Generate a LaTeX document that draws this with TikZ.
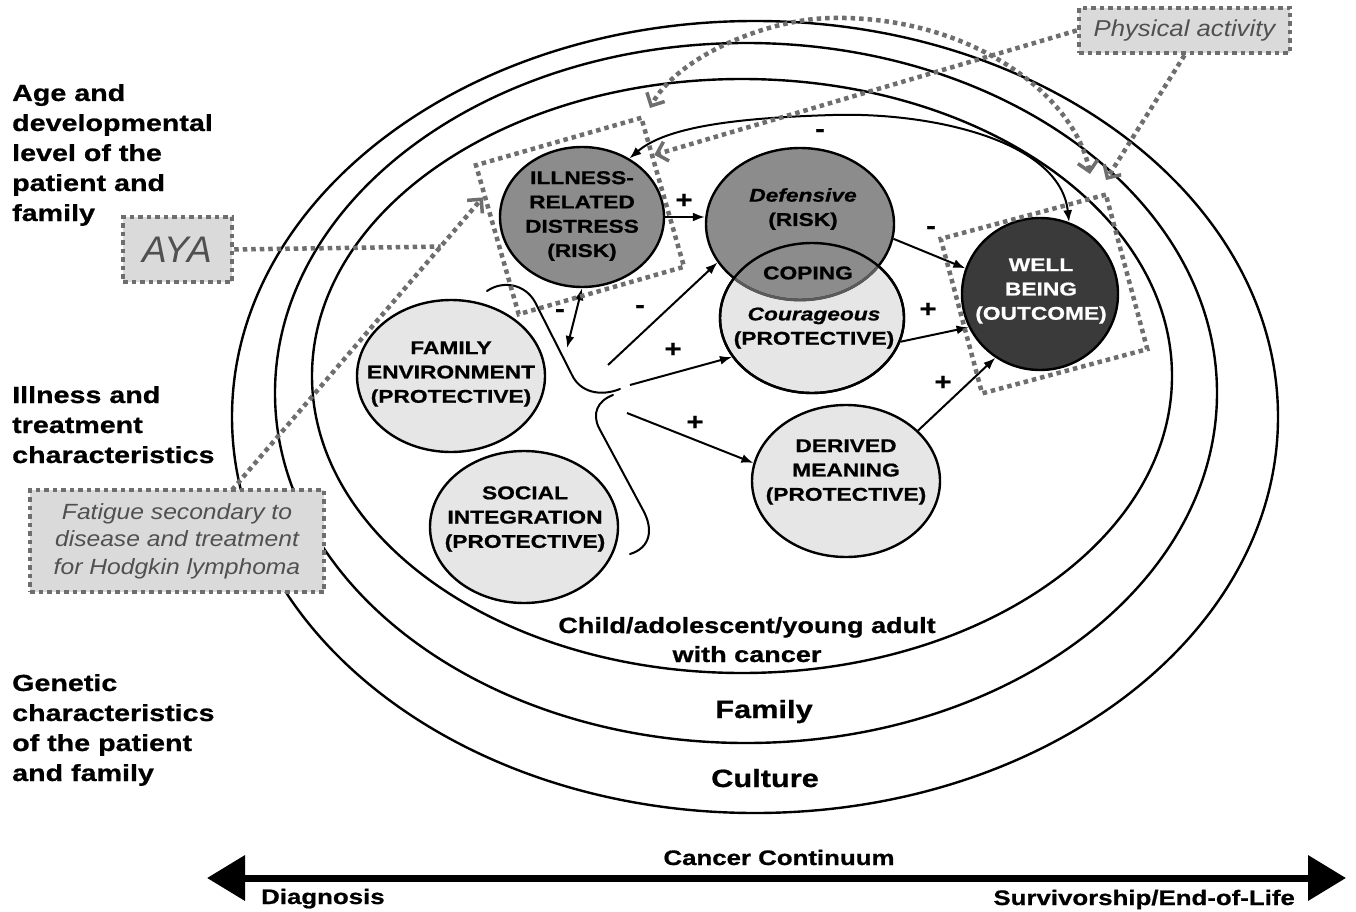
\documentclass[tikz,border=0pt]{standalone}
\usepackage{fontspec}
\setmainfont{Liberation Sans}
\newfontfamily\WideFont[FakeStretch=1.23,FakeBold=0.8]{Liberation Sans}
\newfontfamily\SlFont[FakeStretch=1.12]{Liberation Sans}
\usetikzlibrary{arrows.meta,shapes.geometric,calc}
\definecolor{riskgray}{HTML}{8C8C8C}
\definecolor{riskdark}{HTML}{5A5A5A}
\definecolor{protgray}{HTML}{E6E6E6}
\definecolor{outgray}{HTML}{3A3A3A}
\definecolor{dotgray}{HTML}{6E6E6E}
\definecolor{boxgray}{HTML}{DADADA}
\definecolor{txtgray}{HTML}{505050}
\begin{document}
\begin{tikzpicture}[x=1pt,y=-1pt,
  ring/.style={draw=black, line width=2.4pt},
  circ/.style={ellipse, draw=black, line width=2.4pt, inner sep=0pt},
  risk/.style={circ, fill=riskgray},
  prot/.style={circ, fill=protgray},
  outc/.style={circ, fill=outgray},
  ctext/.style={font=\WideFont\bfseries\fontsize{18.5}{24.3}\selectfont, align=center, inner sep=0pt},
  lbl/.style={font=\WideFont\bfseries\fontsize{23.3}{30}\selectfont, align=left, inner sep=0pt},
  ringlbl/.style={font=\WideFont\bfseries\fontsize{22}{29}\selectfont, align=center, inner sep=0pt},
  pm/.style={font=\WideFont\bfseries\fontsize{24}{24}\selectfont, inner sep=0pt},
  arr/.style={draw=black, line width=2pt, -{Latex[length=12pt,width=9pt]}},
  darr/.style={draw=black, line width=2pt, {Latex[length=12pt,width=9pt]}-{Latex[length=12pt,width=9pt]}},
  brace/.style={draw=black, line width=2pt, line cap=round},
  dotbox/.style={draw=dotgray, line width=4.5pt, dash pattern=on 4.5pt off 4pt, inner sep=0pt},
  dotline/.style={draw=dotgray, line width=4.5pt, dash pattern=on 4.5pt off 4pt},
  dotarr/.style={dotline, -{Straight Barb[length=10pt,width=20pt,line width=3.5pt]}},
  dotdarr/.style={dotline, {Straight Barb[length=10pt,width=20pt,line width=3.5pt]}-{Straight Barb[length=10pt,width=20pt,line width=3.5pt]}},
  axis/.style={draw=black, line width=7pt, {Triangle[length=38pt,width=44pt]}-{Triangle[length=38pt,width=44pt]}}
]
\fill[white] (0,0) rectangle (1356,912);
\path[use as bounding box] (0,0) rectangle (1356,912);

% rings
\draw[ring] (755,417) ellipse [x radius=523pt, y radius=396pt];
\draw[ring] (746,393) ellipse [x radius=471pt, y radius=350pt];
\draw[ring] (742,376) ellipse [x radius=430pt, y radius=297pt];

% left labels (anchor base = baseline of last line)
\node[lbl, anchor=base west] (agel) at (12,221) {Age and\\developmental\\level of the\\patient and\\family};
\node[lbl, anchor=base west] (illl) at (12,463) {Illness and\\treatment\\characteristics};
\node[lbl, anchor=base west] (genl) at (12,781) {Genetic\\characteristics\\of the patient\\and family};

% ring labels
\node[ringlbl, anchor=base] (childl) at (747,662) {Child/adolescent/young adult\\with cancer};
\node[font=\WideFont\bfseries\fontsize{25}{25}\selectfont, anchor=base, inner sep=0pt] (faml) at (764,718) {Family};
\node[font=\WideFont\bfseries\fontsize{25}{25}\selectfont, anchor=base, inner sep=0pt] (cull) at (765,787) {Culture};

% circles
\node[risk, minimum width=164pt, minimum height=140pt] (ill) at (582,217) {};
\node[prot, minimum width=184pt, minimum height=150pt] (cou) at (812,318) {};
\node[risk, minimum width=188pt, minimum height=152pt] (def) at (800,224) {};
\begin{scope}
  \clip (812,318) ellipse [x radius=92pt, y radius=75pt];
  \draw[draw=riskdark, line width=2.8pt] (800,224) ellipse [x radius=94pt, y radius=76pt];
\end{scope}
\node[circ, minimum width=184pt, minimum height=150pt] (couo) at (812,318) {};
\node[outc, minimum width=156pt, minimum height=152pt] (wb) at (1040,294) {};
\node[prot, minimum width=188pt, minimum height=152pt] (fe) at (451,376) {};
\node[prot, minimum width=188pt, minimum height=152pt] (si) at (524,527) {};
\node[prot, minimum width=188pt, minimum height=152pt] (dm) at (846,481) {};

% circle texts
\node[ctext] (illt) at (582,216) {ILLNESS-\\RELATED\\DISTRESS\\(RISK)};
\node[ctext] (deft) at (803,209) {\itshape Defensive\\(RISK)};
\node[ctext] (copt) at (808,273) {COPING};
\node[ctext] (cout) at (814,328) {\itshape Courageous\\(PROTECTIVE)};
\node[ctext, text=white] (wbt) at (1041,291) {WELL\\BEING\\(OUTCOME)};
\node[ctext] (fet) at (451,374) {FAMILY\\ENVIRONMENT\\(PROTECTIVE)};
\node[ctext] (sit) at (525,519) {SOCIAL\\INTEGRATION\\(PROTECTIVE)};
\node[ctext] (dmt) at (846,472) {DERIVED\\MEANING\\(PROTECTIVE)};

% brace
\draw[brace] (487,291) .. controls (503,280) and (525,284) .. (535,302) -- (572,375) .. controls (580,392) and (600,397) .. (620,389);
\draw[brace] (613,395) .. controls (597,401) and (592,414) .. (599,428) -- (643,510) .. controls (654,530) and (650,548) .. (630,554);

% branch coordinates
\coordinate (bA) at (567,348);
\coordinate (bB) at (608,365);
\coordinate (bC) at (630,385);
\coordinate (bD) at (627,413);

% solid arrows
\draw[arr] (ill.east) -- (ill.east -| def.west);
\draw[darr] (wb.68) .. controls (1060,140) and (930,112) .. (833,115) .. controls (730,118) and (665,128) .. (ill.51);
\draw[arr] (def.-9) -- (wb.161);
\draw[arr] (cou.-15) -- (wb.205);
\draw[arr] (dm.35) -- (wb.235);
\draw[darr] (ill.south) -- (bA);
\draw[arr] (bB) -- (def.205);
\draw[arr] (bC) -- (cou.206);
\draw[arr] (bD) -- (dm.169);

% signs
\node[pm] (s1) at (684,201) {+};
\node[pm] (s2) at (820,133) {-};
\node[pm] (s3) at (931,230) {-};
\node[pm] (s4) at (928,310) {+};
\node[pm] (s5) at (943,383) {+};
\node[pm] (s6) at (560,313) {-};
\node[pm] (s7) at (640,309) {-};
\node[pm] (s8) at (673,350) {+};
\node[pm] (s9) at (695,423) {+};

% dotted boxes around nodes
\node[dotbox, minimum width=172pt, minimum height=155pt, rotate=16] (ibox) at (580,216) {};
\node[dotbox, minimum width=171pt, minimum height=160pt, rotate=15] (wbox) at (1044,294) {};

% moderator boxes
\node[dotbox, fill=boxgray, minimum width=109pt, minimum height=65pt, text=txtgray,
      font=\itshape\fontsize{37}{40}\selectfont] (aya) at (177.5,249.5) {AYA};
\node[dotbox, fill=boxgray, minimum width=211pt, minimum height=45pt, text=txtgray,
      font=\SlFont\itshape\fontsize{23}{26}\selectfont] (pa) at (1184.5,30.5) {Physical activity};
\node[dotbox, fill=boxgray, minimum width=294pt, minimum height=102pt, text=txtgray, align=center,
      font=\SlFont\itshape\fontsize{22}{27.5}\selectfont] (fat) at (177,541) {Fatigue secondary to\\disease and treatment\\for Hodgkin lymphoma};

% dotted connectors
\coordinate (fatS) at (232,490);
\coordinate (ibL) at ($(ibox.north west)!0.22!(ibox.south west)$);
\coordinate (join) at ($(fatS)!0.832!(ibL)$);
\coordinate (ibR) at ($(ibox.north east)!0.26!(ibox.south east)$);
\coordinate (paB) at (1106,180);
\coordinate (paC) at (1090,174);
\coordinate (paD) at (650,108);
\draw[dotarr] (fatS) -- (ibL);
\draw[dotline] (aya.east) -- (join);
\draw[dotarr] (pa.west) -- (ibR);
\draw[dotarr] (pa.south) -- (paB);
\draw[dotdarr] (paC) .. controls (1075,95) and (970,15) .. (830,18) .. controls (760,20) and (675,60) .. (paD);

% cancer continuum
\coordinate (axL) at (207,878);
\coordinate (axR) at (1346,878);
\draw[axis] (axL) -- (axR);
\node[font=\WideFont\bfseries\fontsize{21}{21}\selectfont, anchor=base, inner sep=0pt] (cc) at (779,865) {Cancer Continuum};
\node[font=\WideFont\bfseries\fontsize{21}{21}\selectfont, anchor=base west, inner sep=0pt] (dg) at (261,904) {Diagnosis};
\node[font=\WideFont\bfseries\fontsize{21}{21}\selectfont, anchor=base east, inner sep=0pt] (sv) at (1295,905) {Survivorship/End-of-Life};
\end{tikzpicture}
\end{document}
